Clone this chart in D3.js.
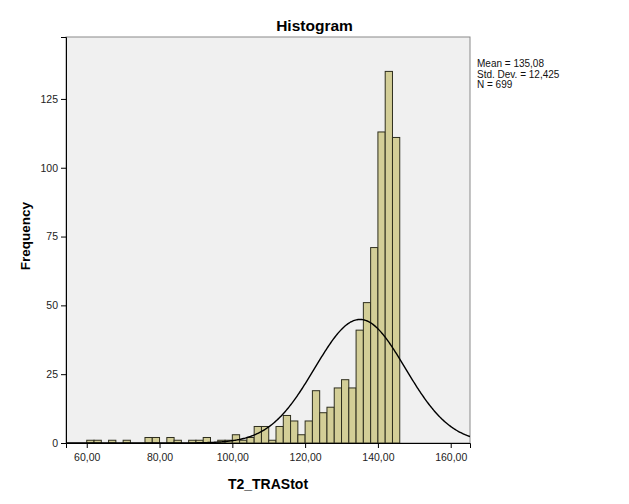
<!DOCTYPE html>
<html><head><meta charset="utf-8">
<script src="https://cdn.jsdelivr.net/npm/d3@7"></script>
<style>body{margin:0;background:#fff}svg{display:block}text{font-family:Arial,"Liberation Sans",sans-serif}</style>
</head><body><svg id="c" width="629" height="504"></svg>
<script>
// Data: histogram bins (lower edges, width 2) and counts
const binStarts = [60,62,64,66,68,70,72,74,76,78,80,82,84,86,88,90,92,94,96,98,100,102,104,106,108,110,112,114,116,118,120,122,124,126,128,130,132,134,136,138,140,142,144];
const counts    = [1,1,0,1,0,1,0,0,2,2,0,2,1,0,1,1,2,0,1,1,3,1,2,6,6,1,6,10,8,3,8,19,11,13,20,23,20,41,51,71,113,135,111];
const binWidth = 2;
const xTicks = [60,80,100,120,140,160];
const yTicks = [0,25,50,75,100,125];
const stats = {mean:135.08, sd:12.425, n:699};
const legendLines = ["Mean = 135,08","Std. Dev. = 12,425","N = 699"];

const svg = d3.select("#c");
const L=66, R=470, T=37, B=443;
const x = d3.scaleLinear().domain([54.3,165.3]).range([L,R]);
const y = d3.scaleLinear().domain([0,147.5]).range([B,T]);

svg.append("rect").attr("x",L).attr("y",T).attr("width",R-L).attr("height",B-T)
  .attr("fill","#f0f0f0").attr("stroke","#8a8a8a").attr("stroke-width",1);

svg.append("clipPath").attr("id","clip").append("rect").attr("x",L).attr("y",T).attr("width",R-L).attr("height",B-T);

const bins = binStarts.map((s,i)=>({s,c:counts[i]})).filter(d=>d.c>0);
svg.append("g").selectAll("rect").data(bins).join("rect")
  .attr("x",d=>x(d.s)).attr("y",d=>y(d.c))
  .attr("width",d=>x(d.s+binWidth)-x(d.s)).attr("height",d=>y(0)-y(d.c))
  .attr("fill","#d3ce97").attr("stroke","#2e2e1e").attr("stroke-width",1);

// normal curve
const dens = v => stats.n*binWidth/(stats.sd*Math.sqrt(2*Math.PI))*Math.exp(-0.5*Math.pow((v-stats.mean)/stats.sd,2));
const xs = d3.range(54.3,165.31,0.25);
svg.append("path").datum(xs).attr("clip-path","url(#clip)")
  .attr("d",d3.line().x(v=>x(v)).y(v=>y(dens(v))))
  .attr("fill","none").attr("stroke","#000").attr("stroke-width",1.4);

const fmt = v => d3.format(".2f")(v).replace(".",",");
const xa = svg.append("g").attr("transform",`translate(0,${B})`)
  .call(d3.axisBottom(x).tickValues(xTicks).tickFormat(fmt).tickSizeOuter(0).tickSize(5));
xa.select(".domain").attr("stroke","#000");
xa.selectAll("text").attr("font-size","10.5px").attr("fill","#222").attr("dy","0.95em");
const ya = svg.append("g").attr("transform",`translate(${L},0)`)
  .call(d3.axisLeft(y).tickValues(yTicks).tickSizeOuter(0).tickSize(5));
ya.select(".domain").attr("stroke","#000");
ya.selectAll("text").attr("font-size","10.5px").attr("fill","#222");

svg.append("text").attr("x",314.5).attr("y",31).attr("text-anchor","middle")
  .attr("font-weight","bold").attr("font-size","15.5px").text("Histogram");
svg.append("text").attr("x",(L+R)/2).attr("y",489).attr("text-anchor","middle")
  .attr("font-weight","bold").attr("font-size","14px").text("T2_TRAStot");
svg.append("text").attr("transform","translate(30,236) rotate(-90)").attr("text-anchor","middle")
  .attr("font-weight","bold").attr("font-size","13.5px").text("Frequency");

svg.append("g").selectAll("text").data(legendLines).join("text")
  .attr("x",477).attr("y",(d,i)=>67+i*10.7).attr("font-size","10px").attr("fill","#111").text(d=>d);
</script></body></html>
